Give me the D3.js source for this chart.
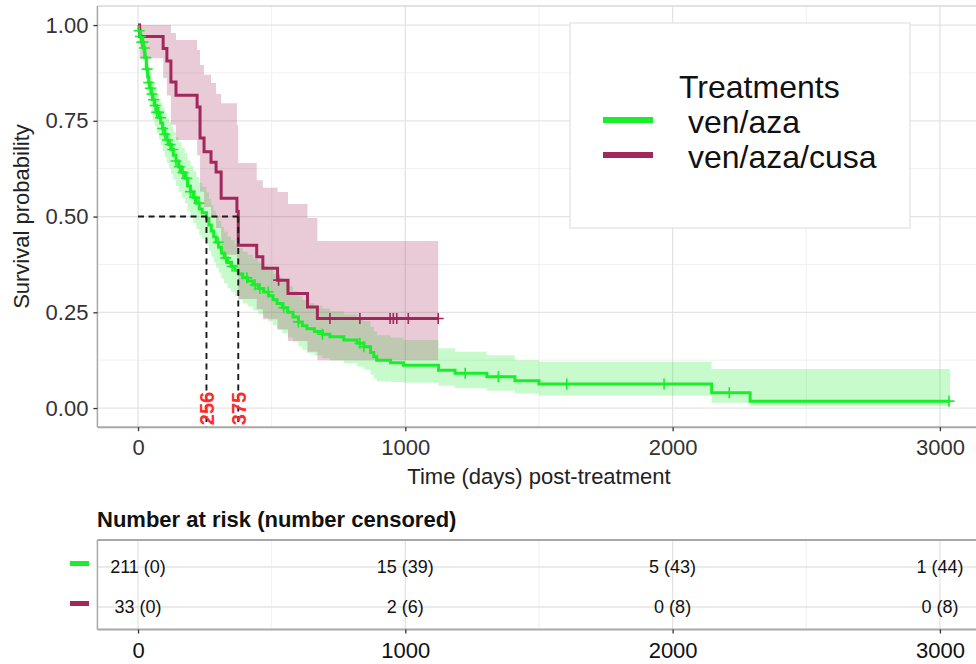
<!DOCTYPE html>
<html><head><meta charset="utf-8">
<script src="https://cdn.jsdelivr.net/npm/d3@7"></script>
<style>
body{margin:0;background:#fff;}
svg{display:block;font-family:"Liberation Sans",Arial,Helvetica,sans-serif;}
</style>
</head><body>
<svg id="c" width="976" height="664"></svg>
<script>
// ---------------- data ----------------
const groups = ["ven/aza", "ven/aza/cusa"];
const groupColors = ["#19ee2a", "#a2275a"];

// ven/aza (green) Kaplan-Meier steps
const greenTimes = [0,3,8,14,20,25,31,36,40,45,50,55,62,70,78,85,92,100,108,116,124,132,142,152,163,175,185,196,207,218,229,240,256,265,274,283,292,302,312,322,335,348,362,375,392,410,430,450,470,488,505,520,540,560,580,600,615,632,660,690,718,770,820,845,870,882,893,945,993,1124,1186,1305,1410,1500,2146,2290];
const greenSurv  = [1,0.985,0.97,0.955,0.94,0.915,0.885,0.865,0.85,0.835,0.82,0.805,0.79,0.772,0.758,0.744,0.73,0.715,0.70,0.688,0.675,0.66,0.645,0.63,0.615,0.60,0.58,0.565,0.55,0.535,0.52,0.51,0.495,0.478,0.462,0.447,0.433,0.42,0.405,0.392,0.38,0.37,0.36,0.35,0.34,0.332,0.322,0.312,0.303,0.293,0.283,0.273,0.262,0.25,0.238,0.225,0.215,0.207,0.2,0.193,0.186,0.178,0.169,0.16,0.145,0.134,0.125,0.118,0.112,0.099,0.091,0.082,0.071,0.063,0.040,0.018];
const greenUpper = [1,1,0.993,0.98,0.968,0.948,0.922,0.905,0.891,0.878,0.864,0.851,0.838,0.822,0.809,0.797,0.784,0.771,0.757,0.746,0.735,0.721,0.707,0.694,0.68,0.666,0.647,0.632,0.618,0.603,0.588,0.578,0.563,0.546,0.53,0.515,0.501,0.488,0.473,0.46,0.448,0.438,0.428,0.418,0.408,0.40,0.39,0.38,0.371,0.361,0.351,0.341,0.33,0.318,0.305,0.292,0.282,0.274,0.267,0.26,0.253,0.245,0.236,0.227,0.212,0.20,0.19,0.184,0.178,0.156,0.147,0.138,0.125,0.121,0.102,0.102];
const greenLower = [1,0.968,0.947,0.927,0.908,0.878,0.843,0.82,0.803,0.786,0.769,0.752,0.736,0.717,0.701,0.686,0.671,0.655,0.639,0.626,0.612,0.596,0.58,0.565,0.549,0.534,0.513,0.498,0.483,0.467,0.452,0.442,0.428,0.411,0.395,0.38,0.366,0.353,0.338,0.325,0.313,0.303,0.293,0.283,0.273,0.265,0.255,0.245,0.236,0.226,0.216,0.206,0.196,0.184,0.173,0.161,0.151,0.144,0.137,0.13,0.124,0.117,0.108,0.10,0.087,0.077,0.07,0.068,0.066,0.058,0.052,0.045,0.038,0.032,0.014,0.005];
const greenEnd = 3038;
const greenCensor = [4,9,14,19,24,29,34,40,46,52,58,64,70,77,84,92,100,110,120,130,142,155,168,182,196,212,228,300,328,352,407,438,456,487,545,600,690,830,845,1224,1348,1604,1968,2212,3034];

// ven/aza/cusa (maroon)
const maroonTimes = [0,6,94,108,123,142,221,232,247,273,292,311,370,375,444,467,522,561,634,671];
const maroonSurv  = [1,0.970,0.939,0.906,0.851,0.817,0.786,0.705,0.669,0.642,0.616,0.548,0.513,0.425,0.395,0.365,0.334,0.299,0.264,0.234];
const maroonUpper = [1,1,1,1,0.979,0.961,0.935,0.896,0.87,0.849,0.82,0.796,0.739,0.64,0.595,0.575,0.564,0.533,0.496,0.436];
const maroonLower = [1,0.913,0.862,0.816,0.74,0.70,0.66,0.565,0.525,0.497,0.47,0.40,0.365,0.285,0.258,0.232,0.205,0.175,0.147,0.125];
const maroonEnd = 1123;
const maroonCensor = [526,718,830,943,955,968,1011,1123];

// medians
const medianTimes = [256, 375];
const medianLabels = ["256", "375"];

// axis ticks
const xTicks = [0,1000,2000,3000];
const xMinor = [500,1500,2500];
const yTicks = [0,0.25,0.5,0.75,1];
const yMinor = [0.125,0.375,0.625,0.875];

// risk table
const riskTimes = [0,1000,2000,3000];
const riskGreen = ["211 (0)","15 (39)","5 (43)","1 (44)"];
const riskMaroon = ["33 (0)","2 (6)","0 (8)","0 (8)"];

// ---------------- drawing ----------------
const svg = d3.select("#c");
const P = {l:97.4, r:990.7, t:5.9, b:427.2};
const x = d3.scaleLinear().domain([-152, 3190]).range([P.l, P.r]);
const y = d3.scaleLinear().domain([-0.05, 1.05]).range([P.b, P.t]);

const defs = svg.append("defs");
defs.append("clipPath").attr("id","clipP").append("rect")
  .attr("x",P.l).attr("y",P.t).attr("width",P.r-P.l).attr("height",P.b-P.t);

const gp = svg.append("g");
// grid
const grid = gp.append("g");
grid.selectAll(".vmin").data(xMinor).join("line")
  .attr("x1",d=>x(d)).attr("x2",d=>x(d)).attr("y1",P.t).attr("y2",P.b)
  .attr("stroke","#f0f0f0").attr("stroke-width",1);
grid.selectAll(".hmin").data(yMinor).join("line")
  .attr("x1",P.l).attr("x2",P.r).attr("y1",d=>y(d)).attr("y2",d=>y(d))
  .attr("stroke","#f0f0f0").attr("stroke-width",1);
grid.selectAll(".vmaj").data(xTicks).join("line")
  .attr("x1",d=>x(d)).attr("x2",d=>x(d)).attr("y1",P.t).attr("y2",P.b)
  .attr("stroke","#e4e4e4").attr("stroke-width",1.3);
grid.selectAll(".hmaj").data(yTicks).join("line")
  .attr("x1",P.l).attr("x2",P.r).attr("y1",d=>y(d)).attr("y2",d=>y(d))
  .attr("stroke","#e4e4e4").attr("stroke-width",1.3);

function mk(times, surv, up, lo, end){
  const pts = times.map((t,i)=>({t, s:surv[i], u:up[i], l:lo[i]}));
  const last = pts[pts.length-1];
  pts.push({t:end, s:last.s, u:last.u, l:last.l});
  return pts;
}
const gData = mk(greenTimes, greenSurv, greenUpper, greenLower, greenEnd);
const mData = mk(maroonTimes, maroonSurv, maroonUpper, maroonLower, maroonEnd);

const area = d3.area().curve(d3.curveStepAfter).x(d=>x(d.t)).y0(d=>y(d.l)).y1(d=>y(d.u));
const line = d3.line().curve(d3.curveStepAfter).x(d=>x(d.t)).y(d=>y(d.s));

const plot = gp.append("g").attr("clip-path","url(#clipP)");
plot.append("path").datum(gData).attr("d",area).attr("fill",groupColors[0]).attr("fill-opacity",0.24);
plot.append("path").datum(mData).attr("d",area).attr("fill",groupColors[1]).attr("fill-opacity",0.24);

plot.append("path").datum(gData).attr("d",line).attr("fill","none").attr("stroke",groupColors[0]).attr("stroke-width",3);
plot.append("path").datum(mData).attr("d",line).attr("fill","none").attr("stroke",groupColors[1]).attr("stroke-width",3);

function survAt(times, surv, t){
  let s = surv[0];
  for (let i=0;i<times.length;i++){ if (times[i] <= t) s = surv[i]; }
  return s;
}
function censorMarks(list, times, surv, color){
  const g = plot.append("g").attr("stroke",color).attr("stroke-width",1.6);
  list.forEach(t=>{
    const cx = x(t), cy = y(survAt(times, surv, t));
    g.append("line").attr("x1",cx).attr("x2",cx).attr("y1",cy-5.5).attr("y2",cy+5.5);
    g.append("line").attr("x1",cx-5.5).attr("x2",cx+5.5).attr("y1",cy).attr("y2",cy);
  });
}
censorMarks(greenCensor, greenTimes, greenSurv, groupColors[0]);
censorMarks(maroonCensor, maroonTimes, maroonSurv, groupColors[1]);

// median dashed lines
const med = gp.append("g").attr("stroke","#1a1a1a").attr("stroke-width",1.9).attr("stroke-dasharray","6,4.5");
med.append("line").attr("x1",x(0)).attr("x2",x(d3.max(medianTimes))).attr("y1",y(0.5)).attr("y2",y(0.5));
medianTimes.forEach(t=>{
  med.append("line").attr("x1",x(t)).attr("x2",x(t)).attr("y1",y(0.5)).attr("y2",P.b);
});
medianTimes.forEach((t,i)=>{
  gp.append("text").attr("transform",`translate(${x(t)+7.5},${P.b-2}) rotate(-90)`)
    .attr("fill","#ff2a2a").attr("font-weight","bold").attr("font-size",20)
    .text(medianLabels[i]);
});

// panel borders
gp.append("line").attr("x1",P.l).attr("x2",P.r).attr("y1",P.t).attr("y2",P.t).attr("stroke","#d8d8d8").attr("stroke-width",1.5);
gp.append("line").attr("x1",P.l).attr("x2",P.l).attr("y1",P.t).attr("y2",P.b).attr("stroke","#a8a8a8").attr("stroke-width",1.5);
gp.append("line").attr("x1",P.l).attr("x2",P.r).attr("y1",P.b).attr("y2",P.b).attr("stroke","#a8a8a8").attr("stroke-width",2);

// axes
const xAx = gp.append("g").attr("transform",`translate(0,${P.b})`)
  .call(d3.axisBottom(x).tickValues(xTicks).tickSize(4).tickPadding(8).tickFormat(d3.format("d")));
xAx.select(".domain").remove();
xAx.selectAll(".tick line").attr("stroke","#333").attr("stroke-width",1.3);
xAx.selectAll("text").attr("font-size",22).attr("fill","#333").attr("font-family",null);

const yAx = gp.append("g").attr("transform",`translate(${P.l},0)`)
  .call(d3.axisLeft(y).tickValues(yTicks).tickSize(4).tickPadding(5).tickFormat(d3.format(".2f")));
yAx.select(".domain").remove();
yAx.selectAll(".tick line").attr("stroke","#333").attr("stroke-width",1.3);
yAx.selectAll("text").attr("font-size",22).attr("fill","#333").attr("font-family",null);

svg.append("text").attr("x",539).attr("y",484).attr("text-anchor","middle")
  .attr("font-size",22).attr("fill","#222").text("Time (days) post-treatment");
svg.append("text").attr("transform",`translate(29,${(P.t+P.b)/2}) rotate(-90)`).attr("text-anchor","middle")
  .attr("font-size",22).attr("fill","#222").text("Survival probability");

// legend
const lg = svg.append("g");
lg.append("rect").attr("x",570).attr("y",23).attr("width",340).attr("height",205)
  .attr("fill","#fff").attr("stroke","#e2e2e2").attr("stroke-width",1.2);
lg.append("text").attr("x",679).attr("y",98).attr("font-size",32).attr("fill","#111").text("Treatments");
groups.forEach((g,i)=>{
  const yy = 120 + i*35;
  lg.append("line").attr("x1",603).attr("x2",653).attr("y1",yy).attr("y2",yy)
    .attr("stroke",groupColors[i]).attr("stroke-width",6);
  lg.append("text").attr("x",688).attr("y",yy+13).attr("font-size",32).attr("fill","#111").text(g);
});

// risk table
const T = {t:540, b:629.5};
const ry = d3.scalePoint().domain(groups).range([567, 607]);
const tg = svg.append("g");
tg.append("text").attr("x",97).attr("y",527).attr("font-size",22).attr("font-weight","bold").attr("fill","#111")
  .text("Number at risk (number censored)");
tg.selectAll(".tvmin").data(xMinor).join("line")
  .attr("x1",d=>x(d)).attr("x2",d=>x(d)).attr("y1",T.t).attr("y2",T.b).attr("stroke","#f0f0f0");
tg.selectAll(".tvmaj").data(xTicks).join("line")
  .attr("x1",d=>x(d)).attr("x2",d=>x(d)).attr("y1",T.t).attr("y2",T.b).attr("stroke","#e4e4e4").attr("stroke-width",1.3);
tg.selectAll(".thmaj").data(groups).join("line")
  .attr("x1",P.l).attr("x2",P.r).attr("y1",d=>ry(d)).attr("y2",d=>ry(d)).attr("stroke","#e4e4e4").attr("stroke-width",1.3);
tg.append("line").attr("x1",P.l).attr("x2",P.r).attr("y1",T.t).attr("y2",T.t).attr("stroke","#a8a8a8").attr("stroke-width",1.8);
tg.append("line").attr("x1",P.l).attr("x2",P.l).attr("y1",T.t).attr("y2",T.b).attr("stroke","#a8a8a8").attr("stroke-width",1.5);
tg.append("line").attr("x1",P.l).attr("x2",P.r).attr("y1",T.b).attr("y2",T.b).attr("stroke","#a8a8a8").attr("stroke-width",2);

[riskGreen, riskMaroon].forEach((row,i)=>{
  row.forEach((txt,j)=>{
    tg.append("text").attr("x",x(riskTimes[j])).attr("y",ry(groups[i])+6).attr("text-anchor","middle")
      .attr("font-size",18).attr("fill","#111").text(txt);
  });
  tg.append("rect").attr("x",70).attr("y",ry(groups[i])-6).attr("width",19).attr("height",5)
    .attr("fill",groupColors[i]);
});
const tAx = tg.append("g").attr("transform",`translate(0,${T.b})`)
  .call(d3.axisBottom(x).tickValues(xTicks).tickSize(4).tickPadding(9).tickFormat(d3.format("d")));
tAx.select(".domain").remove();
tAx.selectAll(".tick line").attr("stroke","#333").attr("stroke-width",1.3);
tAx.selectAll("text").attr("font-size",22).attr("fill","#111").attr("font-family",null);
</script>
</body></html>
